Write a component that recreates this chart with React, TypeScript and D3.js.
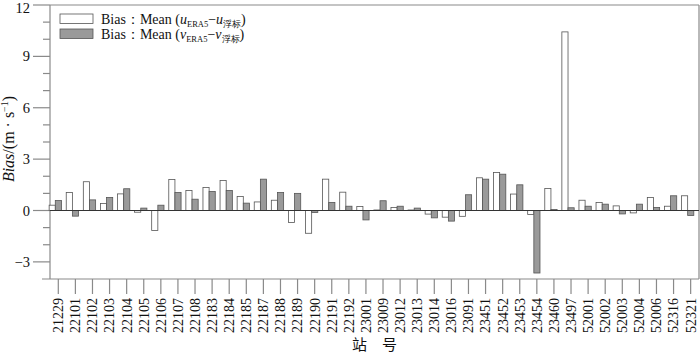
import { scaleBand, scaleLinear, range } from 'd3'

// station ids along the x axis
const stations = [
  '21229', '22101', '22102', '22103', '22104', '22105', '22106', '22107', '22108', '22183',
  '22184', '22185', '22187', '22188', '22189', '22190', '22191', '22192', '23001', '23009',
  '23012', '23013', '23014', '23016', '23091', '23451', '23452', '23453', '23454', '23460',
  '23497', '52001', '52002', '52003', '52004', '52006', '52316', '52321',
]

// mean bias of u component (ERA5 - buoy)
const uBias = [
  0.31, 1.05, 1.68, 0.41, 0.97, -0.1, -1.17, 1.81, 1.17, 1.34,
  1.75, 0.82, 0.5, 0.6, -0.7, -1.33, 1.83, 1.07, 0.23, 0.03,
  0.18, 0.03, -0.21, -0.39, -0.34, 1.91, 2.22, 0.96, -0.23, 1.29,
  10.43, 0.6, 0.47, 0.27, -0.14, 0.76, 0.25, 0.86,
]

// mean bias of v component (ERA5 - buoy)
const vBias = [
  0.58, -0.33, 0.62, 0.76, 1.27, 0.14, 0.31, 1.05, 0.66, 1.11,
  1.17, 0.43, 1.83, 1.05, 1.0, -0.12, 0.47, 0.25, -0.55, 0.57,
  0.25, 0.14, -0.43, -0.62, 0.92, 1.83, 2.12, 1.5, -3.65, 0.06,
  0.16, 0.25, 0.37, -0.2, 0.37, 0.18, 0.86, -0.29,
]

const yTicks = [-3, 0, 3, 6, 9, 12]

const W = 700
const H = 354
const left = 50
const right = 699
const top = 5
const bottom = 279

const axisColor = '#8a8a8a'
const barStroke = '#555'
const serif = '"Liberation Serif", "DejaVu Serif", serif'
const cjk = '"Noto Sans CJK SC", sans-serif'

export default function App() {
  const x = scaleBand<string>().domain(stations).range([left - 0.25, right + 0.2])
  const y = scaleLinear().domain([-4, 12]).range([bottom, top])
  const step = x.step()
  const barW = step * 0.36
  const shift = -3 // bars sit a bit left of the tick
  const center = (s: string) => (x(s) as number) + x.bandwidth() / 2
  const y0 = y(0)

  const minor = range(-4, 13).filter((v) => v % 3 !== 0 && v > -4)

  return (
    <svg
      width={W}
      height={H}
      style={{ position: 'fixed', left: 0, top: 0, background: '#fff' }}
      fontFamily={serif}
    >
      {/* frame */}
      <line x1={left} x2={right} y1={top} y2={top} stroke={axisColor} strokeWidth={1.2} />
      <line x1={right} x2={right} y1={top} y2={bottom} stroke={axisColor} strokeWidth={1.2} />
      <line x1={left} x2={left} y1={top} y2={bottom} stroke={axisColor} strokeWidth={1.2} />
      <line x1={42} x2={right} y1={bottom} y2={bottom} stroke={axisColor} strokeWidth={1.2} />

      {/* y ticks */}
      {yTicks.map((t) => (
        <g key={t}>
          <line x1={33} x2={left} y1={y(t)} y2={y(t)} stroke={axisColor} strokeWidth={1.2} />
          <text x={30} y={Math.max(y(t), 7.5)} dy="0.35em" textAnchor="end" fontSize={14.5} fill="#111">
            {t < 0 ? '\u2212' + Math.abs(t) : t}
          </text>
        </g>
      ))}
      {minor.map((t) => (
        <line key={t} x1={43} x2={left} y1={y(t)} y2={y(t)} stroke={axisColor} strokeWidth={1.2} />
      ))}

      {/* y label */}
      <text transform="translate(14,139) rotate(-90)" textAnchor="middle" fontSize={16} fill="#111">
        <tspan fontStyle="italic">Bias</tspan>
        <tspan>/(m · s</tspan>
        <tspan fontSize={10} dy={-6}>−1</tspan>
        <tspan dy={6}>)</tspan>
      </text>

      {/* bars */}
      {stations.map((s, i) => {
        const c = center(s) + shift
        const u = uBias[i]
        const v = vBias[i]
        return (
          <g key={s}>
            <rect
              x={c - barW}
              y={Math.min(y(u), y0)}
              width={barW}
              height={Math.abs(y(u) - y0)}
              fill="#fff"
              stroke={barStroke}
              strokeWidth={0.8}
            />
            <rect
              x={c}
              y={Math.min(y(v), y0)}
              width={barW}
              height={Math.abs(y(v) - y0)}
              fill="#9a9a9a"
              stroke={barStroke}
              strokeWidth={0.8}
            />
          </g>
        )
      })}

      {/* zero line */}
      <line x1={left} x2={right} y1={y0} y2={y0} stroke="#333" strokeWidth={1} />

      {/* x ticks and labels */}
      {stations.map((s) => (
        <g key={s}>
          <line x1={center(s)} x2={center(s)} y1={bottom} y2={bottom + 15} stroke={axisColor} strokeWidth={1.2} />
          <text
            transform={`translate(${center(s)},${bottom + 19}) rotate(-90)`}
            textAnchor="end"
            dy="0.35em"
            fontSize={14}
            fill="#111"
          >
            {s}
          </text>
        </g>
      ))}

      {/* x title */}
      <text x={(left + right) / 2} y={350} textAnchor="middle" fontSize={15} fontFamily={cjk} fill="#111">
        站　号
      </text>

      {/* legend */}
      <rect x={60} y={14} width={33} height={9.5} fill="#fff" stroke={barStroke} strokeWidth={0.8} />
      <rect x={60} y={29} width={33} height={9.5} fill="#9a9a9a" stroke={barStroke} strokeWidth={0.8} />
      {[
        { y: 23.5, c: 'u' },
        { y: 38.5, c: 'v' },
      ].map((d) => (
        <text key={d.c} x={101} y={d.y} fontSize={14} fill="#111">
          Bias：Mean (
          <tspan fontStyle="italic">{d.c}</tspan>
          <tspan fontSize={8.5} dy={3}>ERA5</tspan>
          <tspan dy={-3}>−</tspan>
          <tspan fontStyle="italic">{d.c}</tspan>
          <tspan fontSize={8.5} dy={3}>浮标</tspan>
          <tspan dy={-3}>)</tspan>
        </text>
      ))}
    </svg>
  )
}
